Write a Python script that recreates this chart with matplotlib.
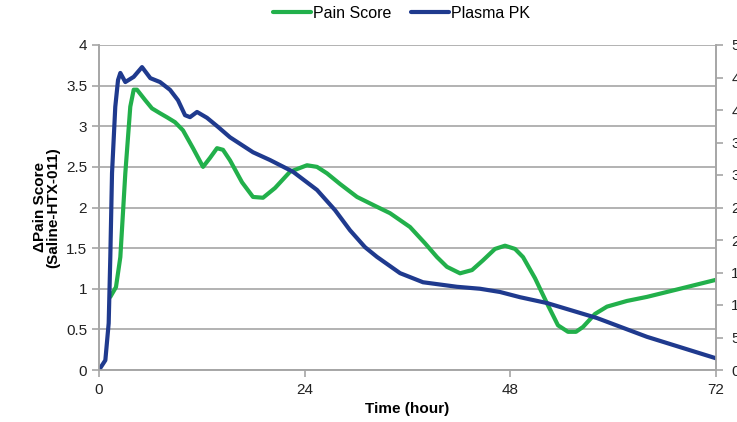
import matplotlib
matplotlib.use("Agg")
import matplotlib.pyplot as plt

plt.rcParams['font.family'] = ['Liberation Sans', 'DejaVu Sans']

# Pain score (left axis)
pain_t = [1.32, 1.98, 2.49, 3.07, 3.65, 4.05, 4.43, 5.4, 6.18, 7.12, 7.94, 8.87, 9.8,
          10.97, 12.14, 12.95, 13.77, 14.47, 15.29, 16.69, 17.97, 19.14, 20.54, 22.29,
          24.27, 25.44, 26.61, 28.12, 30.11, 32.21, 33.96, 36.29, 38.04, 39.44, 40.6,
          42.13, 43.53, 44.81, 46.21, 47.38, 48.55, 49.48, 50.88, 52.28, 53.56, 54.73,
          55.66, 56.48, 57.88, 59.28, 61.61, 63.95, 67.8, 72.0]
pain_v = [0.90, 1.02, 1.39, 2.42, 3.24, 3.45, 3.45, 3.32, 3.22, 3.16, 3.11, 3.05, 2.95,
          2.73, 2.50, 2.61, 2.73, 2.71, 2.58, 2.31, 2.13, 2.12, 2.24, 2.44,
          2.52, 2.50, 2.42, 2.29, 2.13, 2.02, 1.93, 1.76, 1.56, 1.39, 1.27,
          1.19, 1.23, 1.35, 1.49, 1.53, 1.49, 1.39, 1.13, 0.82, 0.55, 0.47,
          0.47, 0.53, 0.69, 0.78, 0.85, 0.90, 1.00, 1.11]

# Plasma PK (right axis)
pk_t = [0.0, 0.74, 1.13, 1.32, 1.52, 1.90, 2.22, 2.49, 3.07, 4.05, 5.02, 5.99, 7.12,
        8.29, 9.22, 10.04, 10.62, 11.44, 12.6, 13.89, 15.29, 17.97, 19.96, 22.64,
        25.44, 27.54, 29.29, 31.04, 32.44, 35.13, 37.81, 41.78, 44.46, 46.8, 49.13,
        52.28, 58.1, 63.95, 72.0]
pk_v = [0, 15, 72, 174, 303, 405, 446, 457, 443, 451, 466, 449, 443,
        431, 415, 392, 389, 397, 388, 374, 358, 335, 323, 305,
        277, 246, 215, 189, 174, 149, 135, 128, 125, 120, 112,
        103, 80, 51, 18]

x_ticks = [0, 24, 48, 72]
left_ticks = [0, 0.5, 1, 1.5, 2, 2.5, 3, 3.5, 4]
right_ticks = list(range(0, 501, 50))

green = '#22b04b'
navy = '#1f3a8e'
grid_c = '#a6a6a6'

fig = plt.figure(figsize=(7.37, 4.22), dpi=100)
ax = fig.add_axes([99 / 737, 52 / 422, 617 / 737, 325 / 422])
ax2 = ax.twinx()

l1, = ax.plot(pain_t, pain_v, color=green, lw=3, solid_joinstyle='round',
              solid_capstyle='round', label='Pain Score')
l2, = ax2.plot(pk_t, pk_v, color=navy, lw=3, solid_joinstyle='round',
               solid_capstyle='round', label='Plasma PK')

ax.set_xlim(0, 72)
ax.set_ylim(0, 4)
ax2.set_ylim(0, 500)
ax.set_xticks(x_ticks)
ax.set_yticks(left_ticks)
ax.set_yticklabels([f"{v:g}" for v in left_ticks])
ax2.set_yticks(right_ticks)

ax.yaxis.grid(True, color=grid_c, lw=1.2)
ax.set_axisbelow(True)
for a in (ax, ax2):
    for s in ['left', 'right', 'bottom']:
        a.spines[s].set_color(grid_c)
        a.spines[s].set_linewidth(1.2)
    a.spines['top'].set_visible(False)
    a.tick_params(colors=grid_c, labelcolor='#222222', labelsize=11, length=5, width=1.2)

ax.tick_params(axis='x', pad=4)
ax2.tick_params(axis='y', pad=6)

ax.set_xlabel('Time (hour)', fontsize=11, fontweight='bold', labelpad=4)
ax.set_ylabel('\u0394Pain Score\n(Saline-HTX-011)', fontsize=11, fontweight='bold',
              labelpad=4, linespacing=1.0)

ax.legend(handles=[l1, l2], loc='upper center', bbox_to_anchor=(0.49, 1.165), ncol=2,
          frameon=False, fontsize=11.5, handlelength=2.4, handletextpad=0.1,
          columnspacing=1.2)

fig.savefig('out.png', dpi=100)
